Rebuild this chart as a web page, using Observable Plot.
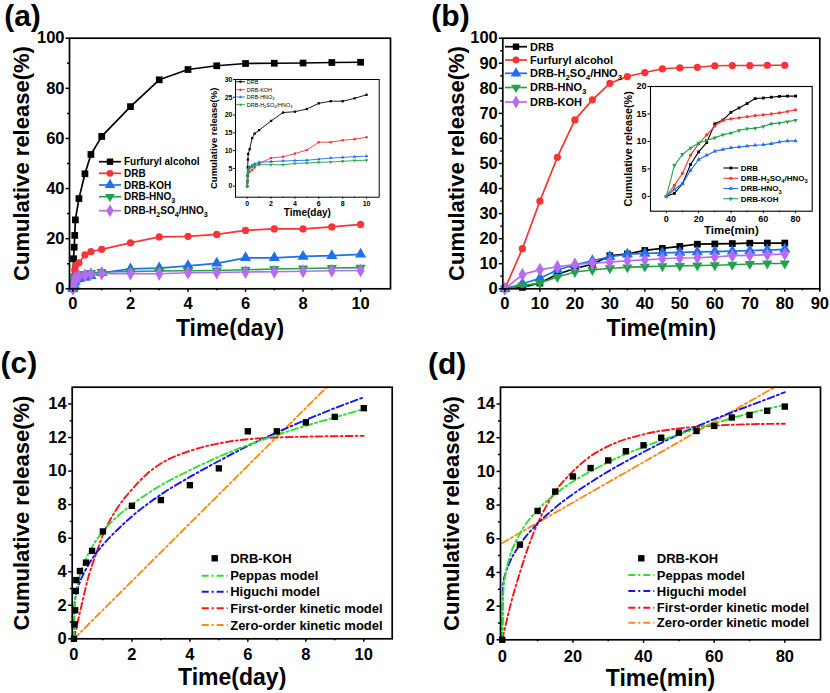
<!DOCTYPE html>
<html><head><meta charset="utf-8">
<script src="https://cdn.jsdelivr.net/npm/d3@7"></script>
<script src="https://cdn.jsdelivr.net/npm/@observablehq/plot@0.6"></script>
<style>
body{margin:0;background:#fff;}
#root{position:relative;width:830px;height:693px;background:#fff;overflow:hidden;font-family:'Liberation Sans',Arial,sans-serif;}
.panel{position:absolute;}
.panel svg{max-width:none !important;display:block;}
</style></head><body><div id="root"></div>
<script>
// ---------------- data ----------------
// (a) release over days
const daysA = [0, 0.021, 0.042, 0.0625, 0.083, 0.208, 0.417, 0.625, 1, 2, 3, 4, 5, 6, 7, 8, 9, 10];
const dayFurfuryl = [0, 12, 16.6, 21.3, 27.5, 36, 45.9, 53.6, 60.8, 72.7, 83.4, 87.5, 89, 89.9, 90, 90.1, 90.3, 90.4];
const dayDRB = [0, 3.0, 5.3, 7.5, 9.05, 10.4, 13.5, 14.8, 15.75, 18.35, 20.7, 20.95, 21.7, 23.3, 23.9, 23.9, 24.7, 25.7];
const dayKOH = [0, 0.86, 1.7, 2.85, 3.5, 4.04, 4.54, 5.24, 6.4, 7.93, 8.27, 9.16, 10.16, 12.37, 12.37, 12.9, 13.23, 13.75];
const dayHNO3 = [0, 1.5, 3.0, 4.0, 4.85, 5.4, 5.9, 6.3, 6.7, 6.9, 7.1, 7.2, 7.3, 7.6, 7.9, 8.1, 8.3, 8.45];
const dayMix = [0, 1.2, 2.5, 3.6, 4.5, 5.0, 5.4, 5.9, 6.05, 6.05, 6.0, 6.4, 6.5, 6.7, 6.8, 7.0, 7.2, 7.3];

// (b) release over minutes
const minsB = [0, 5, 10, 15, 20, 25, 30, 35, 40, 45, 50, 55, 60, 65, 70, 75, 80];
const minFurfuryl = [0, 16, 35, 52.5, 67.4, 75.4, 82, 84.7, 86.3, 87.8, 88.2, 88.4, 89, 89.1, 89.1, 89.2, 89.2];
const minDRB = [0, 0.55, 2.3, 5.8, 8.1, 9.8, 13.2, 13.9, 15.3, 16.1, 16.9, 17.8, 17.9, 18.05, 18.2, 18.25, 18.25];
const minMix = [0, 2.0, 4.2, 7.5, 9.6, 11.2, 12.8, 13.8, 14.1, 14.3, 14.5, 14.7, 14.85, 15.0, 15.2, 15.45, 15.75];
const minHNO3 = [0, 1.3, 2.3, 4.7, 6.7, 7.5, 8.2, 8.55, 8.85, 9.0, 9.15, 9.3, 9.4, 9.6, 9.9, 10.1, 10.1];
const minKOH = [0, 5.65, 7.65, 8.8, 9.7, 10.2, 10.65, 11.2, 11.55, 12.0, 12.3, 12.4, 12.7, 13.2, 13.35, 13.6, 13.85];

// (c) model curves (days)
const cPepT = [0, 0.02, 0.05, 0.1, 0.2, 0.4, 0.6, 1, 1.5, 2, 3, 4, 5, 6, 7, 8, 9, 10];
const cPeppas = [0, 1.8, 2.4, 3.0, 3.75, 4.7, 5.4, 6.4, 7.3, 8.0, 9.15, 10.05, 10.85, 11.55, 12.15, 12.7, 13.2, 13.7];
const cHiguchi = [0, 2.1, 2.45, 2.8, 3.35, 4.1, 4.7, 5.6, 6.5, 7.3, 8.6, 9.65, 10.6, 11.5, 12.3, 13.05, 13.75, 14.4];
const cFoT = [0, 0.25, 0.5, 0.75, 1, 1.5, 2, 2.5, 3, 4, 5, 6, 7, 8, 10];
const cFirst = [0, 1.9, 3.7, 5.0, 6.2, 7.8, 8.9, 9.8, 10.45, 11.2, 11.65, 11.9, 12.0, 12.05, 12.1];
const cZeroT = [0, 10];
const cZero = [0, 17.2];

// (d) model curves (minutes)
const dT = [0, 0.25, 1, 2, 5, 10, 15, 20, 25, 30, 40, 50, 60, 70, 80];
const dPeppas = [0, 2.7, 4.0, 4.85, 6.3, 7.7, 8.65, 9.4, 10.0, 10.55, 11.45, 12.2, 12.85, 13.45, 13.95];
const dHiguchi = [0, 3.3, 4.0, 4.55, 5.65, 6.9, 7.85, 8.65, 9.35, 10.0, 11.15, 12.2, 13.1, 13.9, 14.7];
const dFoT = [0, 2.5, 5, 7.5, 10, 15, 20, 25, 30, 40, 50, 60, 70, 80];
const dFirst = [0, 2.2, 4.0, 5.6, 6.9, 8.8, 10.0, 10.9, 11.5, 12.2, 12.55, 12.72, 12.8, 12.83];
const dZeroT = [0, 80];
const dZero = [5.75, 15.35];

// tick values
const aXMajor = [0, 2, 4, 6, 8, 10], aXMinor = [1, 3, 5, 7, 9];
const aYMajor = [0, 20, 40, 60, 80, 100], aYMinor = [10, 30, 50, 70, 90];
const bXMajor = [0, 10, 20, 30, 40, 50, 60, 70, 80, 90], bXMinor = [5, 15, 25, 35, 45, 55, 65, 75, 85];
const bYMajor = [0, 10, 20, 30, 40, 50, 60, 70, 80, 90, 100], bYMinor = [5, 15, 25, 35, 45, 55, 65, 75, 85, 95];
const aiYMajor = [0, 5, 10, 15, 20, 25, 30];
const biXMajor = [0, 20, 40, 60, 80], biXMinor = [10, 30, 50, 70];
const biYMajor = [0, 5, 10, 15, 20];
const cYMajor = [0, 2, 4, 6, 8, 10, 12, 14], cYMinor = [1, 3, 5, 7, 9, 11, 13];
const dXMajor = [0, 20, 40, 60, 80], dXMinor = [10, 30, 50, 70];

// ---------------- helpers ----------------
const FONT = "'Liberation Sans', Arial, Helvetica, sans-serif";
const root = document.getElementById("root");
const sqrt3 = Math.sqrt(3);
const triDown = {draw(ctx, size) {const y = -Math.sqrt(size / (sqrt3 * 3)); ctx.moveTo(0, -y * 2); ctx.lineTo(-sqrt3 * y, y); ctx.lineTo(sqrt3 * y, y); ctx.closePath();}};
const SYM = {square: d3.symbolSquare, circle: d3.symbolCircle, up: d3.symbolTriangle, down: triDown, diamond: d3.symbolDiamond};
const C = {black: "#000000", red: "#f83434", blue: "#1f6fee", green: "#22a24a", purple: "#b66cf2",
  mGreen: "#2ee02e", mBlue: "#1414ff", mRed: "#ff1414", mOrange: "#ff8a14"};
const DASH = "7,3,2,3";

function place(svg, left, top, w, h) {
  const div = document.createElement("div");
  div.className = "panel";
  div.style.left = left + "px"; div.style.top = top + "px";
  div.style.width = w + "px"; div.style.height = h + "px";
  svg.style.maxWidth = "none";
  div.appendChild(svg);
  root.appendChild(div);
}
const rowsOf = (xs, ys) => xs.map((x, i) => ({x, y: ys[i]}));

function axes(o) {
  const sw = o.sw ?? 1.5;
  return [
    Plot.axisX({ticks: o.xMinor, tickSize: o.minor, tickFormat: () => "", label: null, strokeWidth: sw}),
    Plot.axisX({ticks: o.xMajor, tickSize: o.major, tickPadding: o.padX, fontSize: o.fs, tickFormat: d => String(d), label: null, strokeWidth: sw}),
    Plot.axisY({ticks: o.yMinor || [], tickSize: o.minor, tickFormat: () => "", label: null, strokeWidth: sw}),
    Plot.axisY({ticks: o.yMajor, tickSize: o.major, tickPadding: o.padY, fontSize: o.fs, tickFormat: d => String(d), label: null, strokeWidth: sw})
  ];
}
function series(xs, ys, s, r, sw) {
  const rows = rowsOf(xs, ys);
  return [
    Plot.line(rows, {x: "x", y: "y", stroke: s.color, strokeWidth: sw}),
    Plot.dot(rows, {x: "x", y: "y", symbol: SYM[s.symbol], r: r * (s.rs ?? 1), fill: s.color, stroke: "none"})
  ];
}
function model(xs, ys, color) {
  return Plot.line(rowsOf(xs, ys), {x: "x", y: "y", stroke: color, strokeWidth: 1.9, strokeDasharray: DASH, curve: "monotone-x", clip: true});
}
function titles(o) {
  const m = [
    Plot.text([o.xTitle], {frameAnchor: "bottom", dy: o.xdy, fontSize: o.xfs, fontWeight: o.weight ?? "bold", textAnchor: "middle", lineAnchor: "middle"}),
    Plot.text([o.yTitle], {frameAnchor: "left", dx: o.ydx, rotate: -90, fontSize: o.yfs, fontWeight: o.weight ?? "bold", textAnchor: "middle", lineAnchor: "middle"})
  ];
  if (o.panel) m.push(Plot.text([o.panel], {frameAnchor: "top-left", dx: o.pdx, dy: o.pdy, fontSize: 30, fontWeight: "bold", textAnchor: "middle", lineAnchor: "middle"}));
  return m;
}
function writeLabel(t, label, fs) {
  const parts = label.split(/(\d)/).filter(p => p !== "");
  let shifted = false;
  for (const p of parts) {
    const sub = /^\d$/.test(p);
    const ts = t.append("tspan").text(p);
    if (sub) { ts.attr("font-size", fs * 0.72); if (!shifted) { ts.attr("dy", fs * 0.28); shifted = true; } }
    else if (shifted) { ts.attr("dy", -fs * 0.28); shifted = false; }
  }
}
function legend(svg, o) {
  const g = d3.select(svg).append("g").attr("font-family", FONT).attr("font-weight", o.weight ?? "bold")
    .attr("font-size", o.fs).attr("text-anchor", "start");
  o.items.forEach((it, i) => {
    const y = o.ys[i];
    if (it.line !== false) g.append("line").attr("x1", o.x).attr("x2", o.x + o.w).attr("y1", y).attr("y2", y)
      .attr("stroke", it.color).attr("stroke-width", it.dash ? 1.9 : o.sw).attr("stroke-dasharray", it.dash || null);
    if (it.symbol) g.append("path").attr("d", d3.symbol(SYM[it.symbol], Math.PI * (o.r * (it.rs ?? 1)) ** 2)())
      .attr("transform", `translate(${o.x + o.w / 2},${y})`).attr("fill", it.color);
    const t = g.append("text").attr("x", o.x + o.w + o.gap).attr("y", y).attr("dy", "0.35em")
      .attr("fill", "black").attr("text-anchor", "start");
    writeLabel(t, it.label, o.fs);
  });
}
const baseStyle = {fontFamily: FONT, fontWeight: "bold", color: "black", background: "white"};

// ---------------- panel (a) ----------------
const sA = {
  furfuryl: {color: C.black, symbol: "square", rs: 1.0},
  drb: {color: C.red, symbol: "circle", rs: 0.95},
  koh: {color: C.blue, symbol: "up", rs: 1.1},
  hno3: {color: C.green, symbol: "down", rs: 1.0},
  mix: {color: C.purple, symbol: "diamond", rs: 1.1}
};
{
  const svg = Plot.plot({
    width: 415, height: 340, marginLeft: 69, marginRight: 25, marginTop: 37.7, marginBottom: 51.7,
    x: {domain: [-0.12, 11.04], label: null}, y: {domain: [0, 100], label: null},
    style: baseStyle,
    marks: [
      ...series(daysA, dayFurfuryl, sA.furfuryl, 3.8, 1.7),
      ...series(daysA, dayDRB, sA.drb, 3.8, 1.7),
      ...series(daysA, dayKOH, sA.koh, 3.8, 1.7),
      ...series(daysA, dayHNO3, sA.hno3, 3.8, 1.7),
      ...series(daysA, dayMix, sA.mix, 3.8, 1.7),
      Plot.frame({stroke: "black", strokeWidth: 1.7}),
      ...axes({xMajor: aXMajor, xMinor: aXMinor, yMajor: aYMajor, yMinor: aYMinor, major: 3.5, minor: 2, padX: 5, padY: 1.5, fs: 16.5}),
      ...titles({xTitle: "Time(day)", xdy: 40, xfs: 23, yTitle: "Cumulative release(%)", ydx: -47.3, yfs: 22, panel: "(a)", pdx: -47, pdy: -22.2})
    ]
  });
  legend(svg, {x: 99, w: 22, gap: 3, fs: 10, r: 3.6, sw: 1.7, ys: [161.7, 173.3, 185, 196.7, 210.7], items: [
    {label: "Furfuryl alcohol", ...sA.furfuryl}, {label: "DRB", ...sA.drb}, {label: "DRB-KOH", ...sA.koh},
    {label: "DRB-HNO3", ...sA.hno3}, {label: "DRB-H2SO4/HNO3", ...sA.mix}]});
  place(svg, 0, 0, 415, 340);
}
// inset (a)
const sAi = {
  drb: {color: C.black, symbol: "square"}, koh: {color: C.red, symbol: "circle"},
  hno3: {color: C.blue, symbol: "up"}, mix: {color: C.green, symbol: "down"}
};
{
  const svg = Plot.plot({
    width: 185, height: 150, marginLeft: 35, marginRight: 6.3, marginTop: 7, marginBottom: 25.3,
    x: {domain: [-0.98, 11.06], label: null}, y: {domain: [-3.1, 30], label: null},
    style: {...baseStyle, background: "transparent"},
    marks: [
      ...series(daysA, dayDRB, sAi.drb, 1.3, 0.9),
      ...series(daysA, dayKOH, sAi.koh, 1.3, 0.9),
      ...series(daysA, dayHNO3, sAi.hno3, 1.3, 0.9),
      ...series(daysA, dayMix, sAi.mix, 1.3, 0.9),
      Plot.frame({stroke: "black", strokeWidth: 1}),
      ...axes({xMajor: aXMajor, xMinor: aXMinor, yMajor: aiYMajor, yMinor: [], major: 2, minor: 1.3, padX: 1.5, padY: 1, fs: 7, sw: 0.9}),
      ...titles({xTitle: "Time(day)", xdy: 16, xfs: 10, yTitle: "Cumulative release(%)", ydx: -21.7, yfs: 9.5})
    ]
  });
  legend(svg, {x: 36, w: 9, gap: 1.7, fs: 5.5, r: 1.2, sw: 0.9, weight: "normal", ys: [9.7, 17.7, 25, 32.7], items: [
    {label: "DRB", ...sAi.drb}, {label: "DRB-KOH", ...sAi.koh}, {label: "DRB-HNO3", ...sAi.hno3}, {label: "DRB-H2SO4/HNO3", ...sAi.mix}]});
  place(svg, 200, 72, 185, 150);
}

// ---------------- panel (b) ----------------
const sB = {
  drb: {color: C.black, symbol: "square", rs: 1.0},
  furfuryl: {color: C.red, symbol: "circle", rs: 0.95},
  mix: {color: C.blue, symbol: "up", rs: 1.1},
  hno3: {color: C.green, symbol: "down", rs: 1.0},
  koh: {color: C.purple, symbol: "diamond", rs: 1.1}
};
{
  const svg = Plot.plot({
    width: 415, height: 340, marginLeft: 87.3, marginRight: 10.7, marginTop: 37.7, marginBottom: 51.7,
    x: {domain: [-0.6, 90], label: null}, y: {domain: [0, 100], label: null},
    style: baseStyle,
    marks: [
      ...series(minsB, minDRB, sB.drb, 3.8, 1.7),
      ...series(minsB, minFurfuryl, sB.furfuryl, 3.8, 1.7),
      ...series(minsB, minMix, sB.mix, 3.8, 1.7),
      ...series(minsB, minHNO3, sB.hno3, 3.8, 1.7),
      ...series(minsB, minKOH, sB.koh, 3.8, 1.7),
      Plot.frame({stroke: "black", strokeWidth: 1.7}),
      ...axes({xMajor: bXMajor, xMinor: bXMinor, yMajor: bYMajor, yMinor: bYMinor, major: 3.5, minor: 2, padX: 5, padY: 1.5, fs: 16.5}),
      ...titles({xTitle: "Time(min)", xdy: 40, xfs: 23, yTitle: "Cumulative release(%)", ydx: -45.6, yfs: 22, panel: "(b)", pdx: -52.3, pdy: -22.2})
    ]
  });
  legend(svg, {x: 90, w: 22, gap: 3, fs: 11, r: 3.6, sw: 1.7, ys: [46.7, 60, 73.3, 87.5, 102], items: [
    {label: "DRB", ...sB.drb}, {label: "Furfuryl alcohol", ...sB.furfuryl}, {label: "DRB-H2SO4/HNO3", ...sB.mix},
    {label: "DRB-HNO3", ...sB.hno3}, {label: "DRB-KOH", ...sB.koh}]});
  place(svg, 415, 0, 415, 340);
}
// inset (b)
const sBi = {
  drb: {color: C.black, symbol: "square"}, mix: {color: C.red, symbol: "circle"},
  hno3: {color: C.blue, symbol: "up"}, koh: {color: C.green, symbol: "down"}
};
{
  const svg = Plot.plot({
    width: 201, height: 160, marginLeft: 35, marginRight: 4.3, marginTop: 6, marginBottom: 29.3,
    x: {domain: [-9.8, 90.3], label: null}, y: {domain: [-2.7, 20], label: null},
    style: {...baseStyle, background: "transparent"},
    marks: [
      ...series(minsB, minDRB, sBi.drb, 1.6, 1.1),
      ...series(minsB, minMix, sBi.mix, 1.6, 1.1),
      ...series(minsB, minHNO3, sBi.hno3, 1.6, 1.1),
      ...series(minsB, minKOH, sBi.koh, 1.6, 1.1),
      Plot.frame({stroke: "black", strokeWidth: 1.1}),
      ...axes({xMajor: biXMajor, xMinor: biXMinor, yMajor: biYMajor, yMinor: [], major: 2.5, minor: 1.5, padX: 1.8, padY: 1.5, fs: 9, sw: 1}),
      ...titles({xTitle: "Time(min)", xdy: 19.3, xfs: 11.5, yTitle: "Cumulative release(%)", ydx: -21.7, yfs: 10.8})
    ]
  });
  legend(svg, {x: 108.3, w: 15, gap: 2.4, fs: 8, r: 1.6, sw: 1.1, ys: [88, 98.3, 108.5, 118.7], items: [
    {label: "DRB", ...sBi.drb}, {label: "DRB-H2SO4/HNO3", ...sBi.mix}, {label: "DRB-HNO3", ...sBi.hno3}, {label: "DRB-KOH", ...sBi.koh}]});
  place(svg, 615, 80, 201, 160);
}

// ---------------- panel (c) ----------------
const modelItems = [
  {label: "Peppas model", color: C.mGreen, dash: DASH},
  {label: "Higuchi model", color: C.mBlue, dash: DASH},
  {label: "First-order kinetic model", color: C.mRed, dash: DASH},
  {label: "Zero-order kinetic model", color: C.mOrange, dash: DASH}
];
{
  const svg = Plot.plot({
    width: 415, height: 353, marginLeft: 71.7, marginRight: 23.3, marginTop: 46.7, marginBottom: 54.7,
    x: {domain: [-0.06, 10.98], label: null}, y: {domain: [0, 15], label: null},
    style: baseStyle,
    marks: [
      model(cZeroT, cZero, C.mOrange),
      model(cFoT, cFirst, C.mRed),
      model(cPepT, cHiguchi, C.mBlue),
      model(cPepT, cPeppas, C.mGreen),
      Plot.dot(rowsOf(daysA, dayKOH), {x: "x", y: "y", symbol: "square", r: 3.6, fill: "black"}),
      Plot.frame({stroke: "black", strokeWidth: 1.7}),
      ...axes({xMajor: aXMajor, xMinor: aXMinor, yMajor: cYMajor, yMinor: cYMinor, major: 3.5, minor: 2, padX: 6, padY: 2, fs: 16.5}),
      ...titles({xTitle: "Time(day)", xdy: 38.4, xfs: 23, yTitle: "Cumulative release(%)", ydx: -50, yfs: 22, panel: "(c)", pdx: -53.4, pdy: -23.4})
    ]
  });
  legend(svg, {x: 201.7, w: 26, gap: 2.5, fs: 13, r: 3.6, sw: 1.9, ys: [218.3, 235.7, 251.7, 268.3, 285], items: [
    {label: "DRB-KOH", color: "black", symbol: "square", line: false}, ...modelItems]});
  place(svg, 0, 340, 415, 353);
}

// ---------------- panel (d) ----------------
{
  const svg = Plot.plot({
    width: 415, height: 353, marginLeft: 85, marginRight: 10, marginTop: 46.7, marginBottom: 53.7,
    x: {domain: [-0.5, 90.1], label: null}, y: {domain: [0, 15], label: null},
    style: baseStyle,
    marks: [
      model(dZeroT, dZero, C.mOrange),
      model(dFoT, dFirst, C.mRed),
      model(dT, dHiguchi, C.mBlue),
      model(dT, dPeppas, C.mGreen),
      Plot.dot(rowsOf(minsB, minKOH), {x: "x", y: "y", symbol: "square", r: 3.6, fill: "black"}),
      Plot.frame({stroke: "black", strokeWidth: 1.7}),
      ...axes({xMajor: dXMajor, xMinor: dXMinor, yMajor: cYMajor, yMinor: cYMinor, major: 3.5, minor: 2, padX: 6.5, padY: 2, fs: 16.5}),
      ...titles({xTitle: "Time(min)", xdy: 39, xfs: 23, yTitle: "Cumulative release(%)", ydx: -48.3, yfs: 22, panel: "(d)", pdx: -53.3, pdy: -22.7})
    ]
  });
  legend(svg, {x: 213.3, w: 26, gap: 2.5, fs: 13, r: 3.6, sw: 1.9, ys: [218.3, 235, 251, 267.7, 282.7], items: [
    {label: "DRB-KOH", color: "black", symbol: "square", line: false}, ...modelItems]});
  place(svg, 415, 340, 415, 353);
}
</script></body></html>
